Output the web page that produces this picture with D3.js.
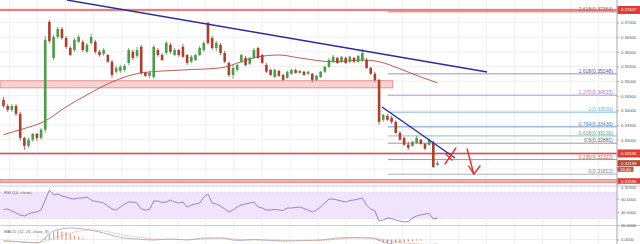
<!DOCTYPE html>
<html><head><meta charset="utf-8">
<script src="https://cdn.jsdelivr.net/npm/d3@7"></script>
<style>html,body{margin:0;padding:0;background:#fff;overflow:hidden}
svg{display:block;font-family:"Liberation Sans",Arial,sans-serif}</style>
</head><body><svg id="c" width="640" height="244"></svg>
<script>
// ---------------- DATA ----------------
const opens = [0.3436,0.3415,0.3402,0.3415,0.3388,0.3306,0.3279,0.3300,0.3320,0.3306,
0.3334,0.3702,0.3579,0.3651,0.3678,0.3647,0.3613,0.3606,0.3634,0.3634,
0.3600,0.3630,0.3634,0.3600,0.3593,0.3589,0.3566,0.3532,0.3535,0.3538,
0.3562,0.3600,0.3586,0.3617,0.3528,0.3518,0.3514,0.3606,0.3589,0.3596,
0.3624,0.3589,0.3606,0.3617,0.3589,0.3566,0.3572,0.3589,0.3606,0.3699,
0.3647,0.3613,0.3624,0.3596,0.3562,0.3521,0.3538,0.3566,0.3579,0.3559,
0.3579,0.3613,0.3589,0.3555,0.3538,0.3514,0.3535,0.3521,0.3511,0.3525,
0.3538,0.3528,0.3532,0.3525,0.3525,0.3504,0.3514,0.3532,0.3549,0.3566,
0.3579,0.3566,0.3579,0.3566,0.3579,0.3566,0.3569,0.3572,0.3545,0.3525,
0.3504,0.3368,0.3381,0.3375,0.3361,0.3323,0.3306,0.3283,0.3279,0.3289,
0.3300,0.3286,0.3283,0.3289,0.3214];
const highs = [0.3446,0.3422,0.3422,0.3422,0.3395,0.3310,0.3306,0.3323,0.3323,0.3340,
0.3654,0.3709,0.3658,0.3685,0.3685,0.3654,0.3620,0.3647,0.3658,0.3641,
0.3630,0.3661,0.3641,0.3606,0.3613,0.3593,0.3572,0.3552,0.3555,0.3559,
0.3613,0.3606,0.3617,0.3624,0.3532,0.3535,0.3624,0.3613,0.3596,0.3637,
0.3630,0.3613,0.3610,0.3627,0.3593,0.3589,0.3593,0.3620,0.3637,0.3702,
0.3654,0.3637,0.3630,0.3603,0.3566,0.3555,0.3559,0.3593,0.3586,0.3583,
0.3613,0.3617,0.3593,0.3562,0.3542,0.3542,0.3538,0.3525,0.3535,0.3542,
0.3542,0.3538,0.3535,0.3535,0.3528,0.3521,0.3535,0.3552,0.3579,0.3589,
0.3583,0.3586,0.3583,0.3586,0.3583,0.3589,0.3610,0.3579,0.3549,0.3532,
0.3508,0.3388,0.3388,0.3381,0.3365,0.3330,0.3310,0.3293,0.3296,0.3313,
0.3303,0.3289,0.3303,0.3296,0.3228];
const lows = [0.3409,0.3395,0.3395,0.3381,0.3296,0.3265,0.3272,0.3293,0.3296,0.3300,
0.3323,0.3630,0.3572,0.3644,0.3641,0.3610,0.3586,0.3600,0.3630,0.3600,
0.3596,0.3624,0.3593,0.3583,0.3586,0.3562,0.3511,0.3525,0.3528,0.3532,
0.3555,0.3572,0.3579,0.3521,0.3514,0.3511,0.3508,0.3583,0.3569,0.3589,
0.3593,0.3586,0.3583,0.3579,0.3555,0.3562,0.3569,0.3586,0.3600,0.3624,
0.3606,0.3603,0.3589,0.3562,0.3514,0.3508,0.3532,0.3562,0.3552,0.3555,
0.3576,0.3576,0.3559,0.3528,0.3518,0.3511,0.3514,0.3501,0.3508,0.3521,
0.3525,0.3525,0.3518,0.3521,0.3497,0.3501,0.3511,0.3528,0.3545,0.3562,
0.3559,0.3562,0.3559,0.3562,0.3562,0.3562,0.3566,0.3542,0.3521,0.3497,
0.3351,0.3361,0.3365,0.3354,0.3320,0.3296,0.3279,0.3265,0.3276,0.3286,
0.3283,0.3265,0.3279,0.3204,0.3211];
const closes = [0.3415,0.3402,0.3415,0.3388,0.3306,0.3279,0.3300,0.3320,0.3306,0.3334,
0.3641,0.3637,0.3651,0.3678,0.3647,0.3617,0.3589,0.3641,0.3651,0.3606,
0.3624,0.3651,0.3600,0.3589,0.3606,0.3566,0.3521,0.3545,0.3549,0.3552,
0.3606,0.3579,0.3606,0.3528,0.3518,0.3528,0.3617,0.3589,0.3572,0.3630,
0.3600,0.3606,0.3589,0.3583,0.3562,0.3583,0.3589,0.3613,0.3630,0.3630,
0.3613,0.3630,0.3596,0.3566,0.3521,0.3545,0.3555,0.3589,0.3555,0.3579,
0.3606,0.3579,0.3562,0.3532,0.3521,0.3538,0.3518,0.3504,0.3532,0.3538,
0.3528,0.3535,0.3521,0.3532,0.3504,0.3518,0.3532,0.3549,0.3572,0.3583,
0.3562,0.3583,0.3562,0.3583,0.3566,0.3586,0.3596,0.3545,0.3525,0.3504,
0.3361,0.3385,0.3368,0.3361,0.3323,0.3300,0.3283,0.3272,0.3293,0.3306,
0.3286,0.3269,0.3300,0.3207,0.32199];

const smaIdx  = [0,4,10,15,20,26,33,43,52,57,61,66,71,79,86,90,95,100,104];
const smaVals = [0.3317,0.3334,0.3364,0.3412,0.3453,0.3497,0.3528,0.3538,0.3545,0.3566,0.3583,0.3589,0.3579,0.3566,0.3572,0.3566,0.3542,0.3514,0.3494];

const rsiVals = [43.8,44.5,41.5,38.5,35.5,34,37,39.2,40,43,
58,73,65.6,67,64,62.6,60.3,59.5,61,61,
62.6,58,55.8,55,53.5,49,44.5,43,47.5,52,
55,55,53.5,44.5,43,43.8,56.5,56.5,54.3,55,
58,55,53.5,55,47.5,50.5,52,53.5,62.6,67,
53.5,52,49,44.5,40,43,47.5,50.5,52,53.5,
55,47.5,46,43,43,43.8,43,42.3,46,46,
46.8,47.5,45.3,43,40,43,47.5,53.5,59.5,59.5,
58,56.5,55,57.3,58,59.5,61,50.5,44.5,41.5,
26.5,28,31,30.2,28,26.5,25,25.7,31,34,
35.5,37,37.7,29.5,31];

const macdIdx = [0,4,8,12,16,20,24,28,32,36,40,44,48,52,56,60,64,68,72,76,80,84,88,92,96,100,104];
const macdLine = [-0.0003,-0.0005,-0.0007,0.0017,0.0023,0.0020,0.0013,0.0004,0.0001,-0.0001,0.0001,-0.0001,0.0003,0.0003,-0.0002,0,-0.0002,-0.0003,-0.0002,-0.0001,0.0003,0.0004,0.0003,-0.0007,-0.0011,-0.0011,-0.0009];
const macdSignal = [-0.0002,-0.0004,-0.0006,0.0002,0.0013,0.0019,0.0017,0.0010,0.0005,0.0001,0,0,0.0001,0.0003,0,-0.0001,-0.0001,-0.0002,-0.0002,-0.0002,0.0001,0.0003,0.0003,-0.0002,-0.0007,-0.0009,-0.0010];
const histIdx = [10,11,12,13,14,15,16,17,18,19,90,91,92,93,94,95,96,97,98,99,100];
const histVals = [0.0004,0.0010,0.0015,0.0018,0.0016,0.0014,0.0011,0.0008,0.0006,0.0003,-0.0003,-0.0006,-0.0008,-0.0008,-0.0007,-0.0006,-0.0005,-0.0004,-0.0003,-0.0002,-0.0002];

const priceTicks = [0.315,0.32,0.325,0.33,0.335,0.34,0.345,0.35,0.355,0.36,0.365,0.37];
const priceTickLabels = [0.315,0.33,0.335,0.34,0.345,0.35,0.355,0.36,0.365,0.37];
const rsiTicks = [60,40,20];

const fibLabels = ["0","0.236","0.5","0.618","0.764","1","1.272","1.618","2.618"];
const fibPrices = [0.31822,0.32322,0.32881,0.33130,0.33439,0.33939,0.34515,0.35248,0.37364];
const fibColors = ["#a8a8a8","#c8806a","#8c8c8c","#7fbfa8","#6a8fc0","#a9d4ee","#cdb0e6","#8a8ab0","#c76a6a"];
const fibText   = ["#8a8a8a","#b86a5a","#6e6e6e","#5aa88e","#5a7fb8","#7cbce0","#a77ccf","#5a5aa8","#b86060"];

const levelPrices = [0.37427,0.32530,0.31590];
const zoneTop = 0.3501, zoneBottom = 0.3477, zoneEndIdx = 93.3;
const currentPrice = 0.32199, countdownPrice = 0.31990, countdown = "16:40";

const trend1 = [[15.2,0.37768],[115.9,0.35311]];
const trend2 = [[90.7,0.34116],[108.2,0.32375]];
const markSlash = [[105.8,0.32171],[108.4,0.32717]];
const markCross = [[106.0,0.32512],[107.5,0.32307]];
const arrowShaft = [[111.1,0.32683],[112.7,0.31829]];
const arrowHead = [[111.5,0.32102],[112.7,0.31829],[114.2,0.32102]];

// ---------------- LAYOUT ----------------
const W = 640, H = 244, axisX = 617;
const pricePanel = {top:0, bottom:186};
const rsiPanel = {top:186, bottom:225.5};
const macdPanel = {top:225.5, bottom:244};

const svg = d3.select("#c");
const x = d3.scaleLinear().domain([0,104]).range([3.5,437.5]);
const y = d3.scaleLinear().domain([0.37,0.32]).range([22.5,169]);
const ry = d3.scaleLinear().domain([60,40]).range([198.7,212]);
const my = d3.scaleLinear().domain([0,0.001]).range([239.5,234.5]);

const defs = svg.append("defs");
[["cp",pricePanel],["cr",rsiPanel],["cm",macdPanel]].forEach(([id,p])=>{
  defs.append("clipPath").attr("id",id).append("rect")
    .attr("x",0).attr("y",p.top).attr("width",axisX).attr("height",p.bottom-p.top);
});

// vertical grid
const gridIdx = d3.range(1.47, 147, 6.72);
svg.append("g").selectAll("line").data(gridIdx).join("line")
  .attr("x1",d=>x(d)).attr("x2",d=>x(d)).attr("y1",0).attr("y2",H)
  .attr("stroke","#ececec").attr("stroke-width",0.8);

// horizontal price grid
svg.append("g").attr("clip-path","url(#cp)").selectAll("line").data(priceTicks).join("line")
  .attr("x1",0).attr("x2",axisX).attr("y1",d=>y(d)).attr("y2",d=>y(d))
  .attr("stroke","#ececec").attr("stroke-width",0.8);

// ---------- PRICE PANEL ----------
const gp = svg.append("g").attr("clip-path","url(#cp)");

gp.append("rect").attr("x",0).attr("y",y(zoneTop))
  .attr("width",x(zoneEndIdx)).attr("height",y(zoneBottom)-y(zoneTop))
  .attr("fill","#f9d3d3").attr("stroke","#e27b7b").attr("stroke-width",0.8);

gp.append("rect").attr("x",0).attr("y",y(levelPrices[2])-1.6).attr("width",axisX).attr("height",3.2)
  .attr("fill","#f4b0b0").attr("stroke","#e26a6a").attr("stroke-width",0.6);
[levelPrices[0],levelPrices[1]].forEach(p=>{
  gp.append("line").attr("x1",0).attr("x2",axisX).attr("y1",y(p)).attr("y2",y(p))
    .attr("stroke","#f3b8b8").attr("stroke-width",2.4);
  gp.append("line").attr("x1",0).attr("x2",axisX).attr("y1",y(p)).attr("y2",y(p))
    .attr("stroke","#e04848").attr("stroke-width",1);
});

const fibStart = 92.1;
fibPrices.forEach((p,i)=>{
  gp.append("line").attr("x1",x(fibStart)).attr("x2",axisX).attr("y1",y(p)).attr("y2",y(p))
    .attr("stroke",fibColors[i]).attr("stroke-width",(i===5||i===6)?1.6:0.9);
  gp.append("text").attr("x",613).attr("y",y(p)-0.9).attr("text-anchor","end")
    .attr("font-size",5.1).attr("fill",fibText[i])
    .text(fibLabels[i]+"("+d3.format(".5f")(p)+")");
});

gp.append("path").datum(smaIdx.map((d,i)=>[d,smaVals[i]]))
  .attr("d",d3.line().x(d=>x(d[0])).y(d=>y(d[1])).curve(d3.curveMonotoneX))
  .attr("fill","none").attr("stroke","#b8483e").attr("stroke-width",0.9);

const up = "#4d9a4a", dn = "#a8402f";
const cg = gp.append("g");
closes.forEach((c,i)=>{
  const o = opens[i], col = c>=o?up:dn, cx = x(i);
  cg.append("line").attr("x1",cx).attr("x2",cx).attr("y1",y(highs[i])).attr("y2",y(lows[i]))
    .attr("stroke",col).attr("stroke-width",0.8);
  const t = y(Math.max(o,c)), b = y(Math.min(o,c));
  cg.append("rect").attr("x",cx-1.3).attr("y",t).attr("width",2.6).attr("height",Math.max(0.8,b-t))
    .attr("fill",col);
});

const ln = d3.line().x(d=>x(d[0])).y(d=>y(d[1]));
[trend1,trend2].forEach(t=>{
  gp.append("path").attr("d",ln(t)).attr("fill","none").attr("stroke","#2a2aa2").attr("stroke-width",1.4);
});
[markSlash,markCross,arrowShaft,arrowHead].forEach(t=>{
  gp.append("path").attr("d",ln(t)).attr("fill","none").attr("stroke","#e0342c")
    .attr("stroke-width",1.4).attr("stroke-linecap","round").attr("stroke-linejoin","round");
});

// ---------- RSI PANEL ----------
const gr = svg.append("g").attr("clip-path","url(#cr)");
gr.append("rect").attr("x",0).attr("y",ry(70)).attr("width",axisX).attr("height",ry(30)-ry(70))
  .attr("fill","#efe4fb");
[70,30].forEach(v=>gr.append("line").attr("x1",0).attr("x2",axisX).attr("y1",ry(v)).attr("y2",ry(v))
  .attr("stroke","#d9c9ec").attr("stroke-width",0.6).attr("stroke-dasharray","2,2"));
gr.append("path").datum(rsiVals)
  .attr("d",d3.line().x((d,i)=>x(i)).y(d=>ry(d)))
  .attr("fill","none").attr("stroke","#8f62b8").attr("stroke-width",0.8);
svg.append("text").attr("x",4).attr("y",193.5).attr("font-size",4.2).attr("fill","#6a6a6a").text("RSI (14, close)");

// ---------- MACD PANEL ----------
const gm = svg.append("g").attr("clip-path","url(#cm)");
gm.append("line").attr("x1",0).attr("x2",axisX).attr("y1",my(0)).attr("y2",my(0))
  .attr("stroke","#e2e2e2").attr("stroke-width",0.6);
histIdx.forEach((d,i)=>{
  const v = histVals[i];
  gm.append("rect").attr("x",x(d)-0.6).attr("width",1.2)
    .attr("y",Math.min(my(v),my(0))).attr("height",Math.abs(my(v)-my(0)))
    .attr("fill",v>=0?"#e39a8c":"#e07a74");
});
gm.append("path").datum(macdIdx.map((d,i)=>[d,macdLine[i]]))
  .attr("d",d3.line().x(d=>x(d[0])).y(d=>my(d[1])).curve(d3.curveMonotoneX))
  .attr("fill","none").attr("stroke","#9aa6c4").attr("stroke-width",0.8);
gm.append("path").datum(macdIdx.map((d,i)=>[d,macdSignal[i]]))
  .attr("d",d3.line().x(d=>x(d[0])).y(d=>my(d[1])).curve(d3.curveMonotoneX))
  .attr("fill","none").attr("stroke","#e2a27c").attr("stroke-width",0.8).attr("stroke-dasharray","1.5,1");
svg.append("text").attr("x",4).attr("y",232.5).attr("font-size",4.2).attr("fill","#6a6a6a").text("MACD (12, 26, close, 9)");

[rsiPanel.top, macdPanel.top].forEach(v=>svg.append("line").attr("x1",0).attr("x2",W)
  .attr("y1",v).attr("y2",v).attr("stroke","#c4c4c4").attr("stroke-width",0.8));

// ---------- AXES ----------
function styleAxis(g){
  g.select(".domain").attr("stroke","#a8a8a8");
  g.selectAll(".tick line").attr("stroke","#a8a8a8");
  g.selectAll(".tick text").attr("fill","#555").attr("font-size",4.2)
    .attr("font-family","Liberation Sans, Arial, sans-serif");
}
const pa = svg.append("g").attr("transform",`translate(${axisX},0)`)
  .call(d3.axisRight(y).tickValues(priceTicks)
     .tickFormat(d=>priceTickLabels.includes(d)?d3.format(".5f")(d):"").tickSize(2).tickPadding(2))
  .call(styleAxis);
pa.select(".domain").attr("d",`M0,0V${pricePanel.bottom}`);
pa.selectAll(".tick text").filter(d=>d===0.315).attr("dy","1.1em");
svg.append("g").attr("transform",`translate(${axisX},0)`)
  .call(d3.axisRight(ry).tickValues(rsiTicks).tickFormat(d3.format(".4f")).tickSize(2).tickPadding(2))
  .call(styleAxis).select(".domain").attr("d",`M0,${rsiPanel.top}V${rsiPanel.bottom}`);
svg.append("g").attr("transform",`translate(${axisX},0)`)
  .call(d3.axisRight(my).tickValues([0]).tickFormat(d3.format(".4f")).tickSize(2).tickPadding(2))
  .call(styleAxis).select(".domain").attr("d",`M0,${macdPanel.top}V${macdPanel.bottom}`);

function box(p, txt, fill, h, w){
  const cy = y(p);
  svg.append("rect").attr("x",axisX+0.5).attr("y",cy-h/2).attr("width",w).attr("height",h).attr("fill",fill);
  svg.append("text").attr("x",axisX+0.5+w/2).attr("y",cy+1.5).attr("text-anchor","middle")
    .attr("font-size",4.3).attr("fill","#fff").text(txt);
}
box(levelPrices[0],d3.format(".5f")(levelPrices[0]),"#e23b36",8,22.5);
box(levelPrices[1],d3.format(".5f")(levelPrices[1]),"#e23b36",8,22.5);
box(levelPrices[2],d3.format(".5f")(levelPrices[2]),"#e23b36",5.6,22.5);
box(currentPrice,d3.format(".5f")(currentPrice),"#b84532",6,22.5);
box(countdownPrice,countdown,"#c5563a",5,16);
</script></body></html>
